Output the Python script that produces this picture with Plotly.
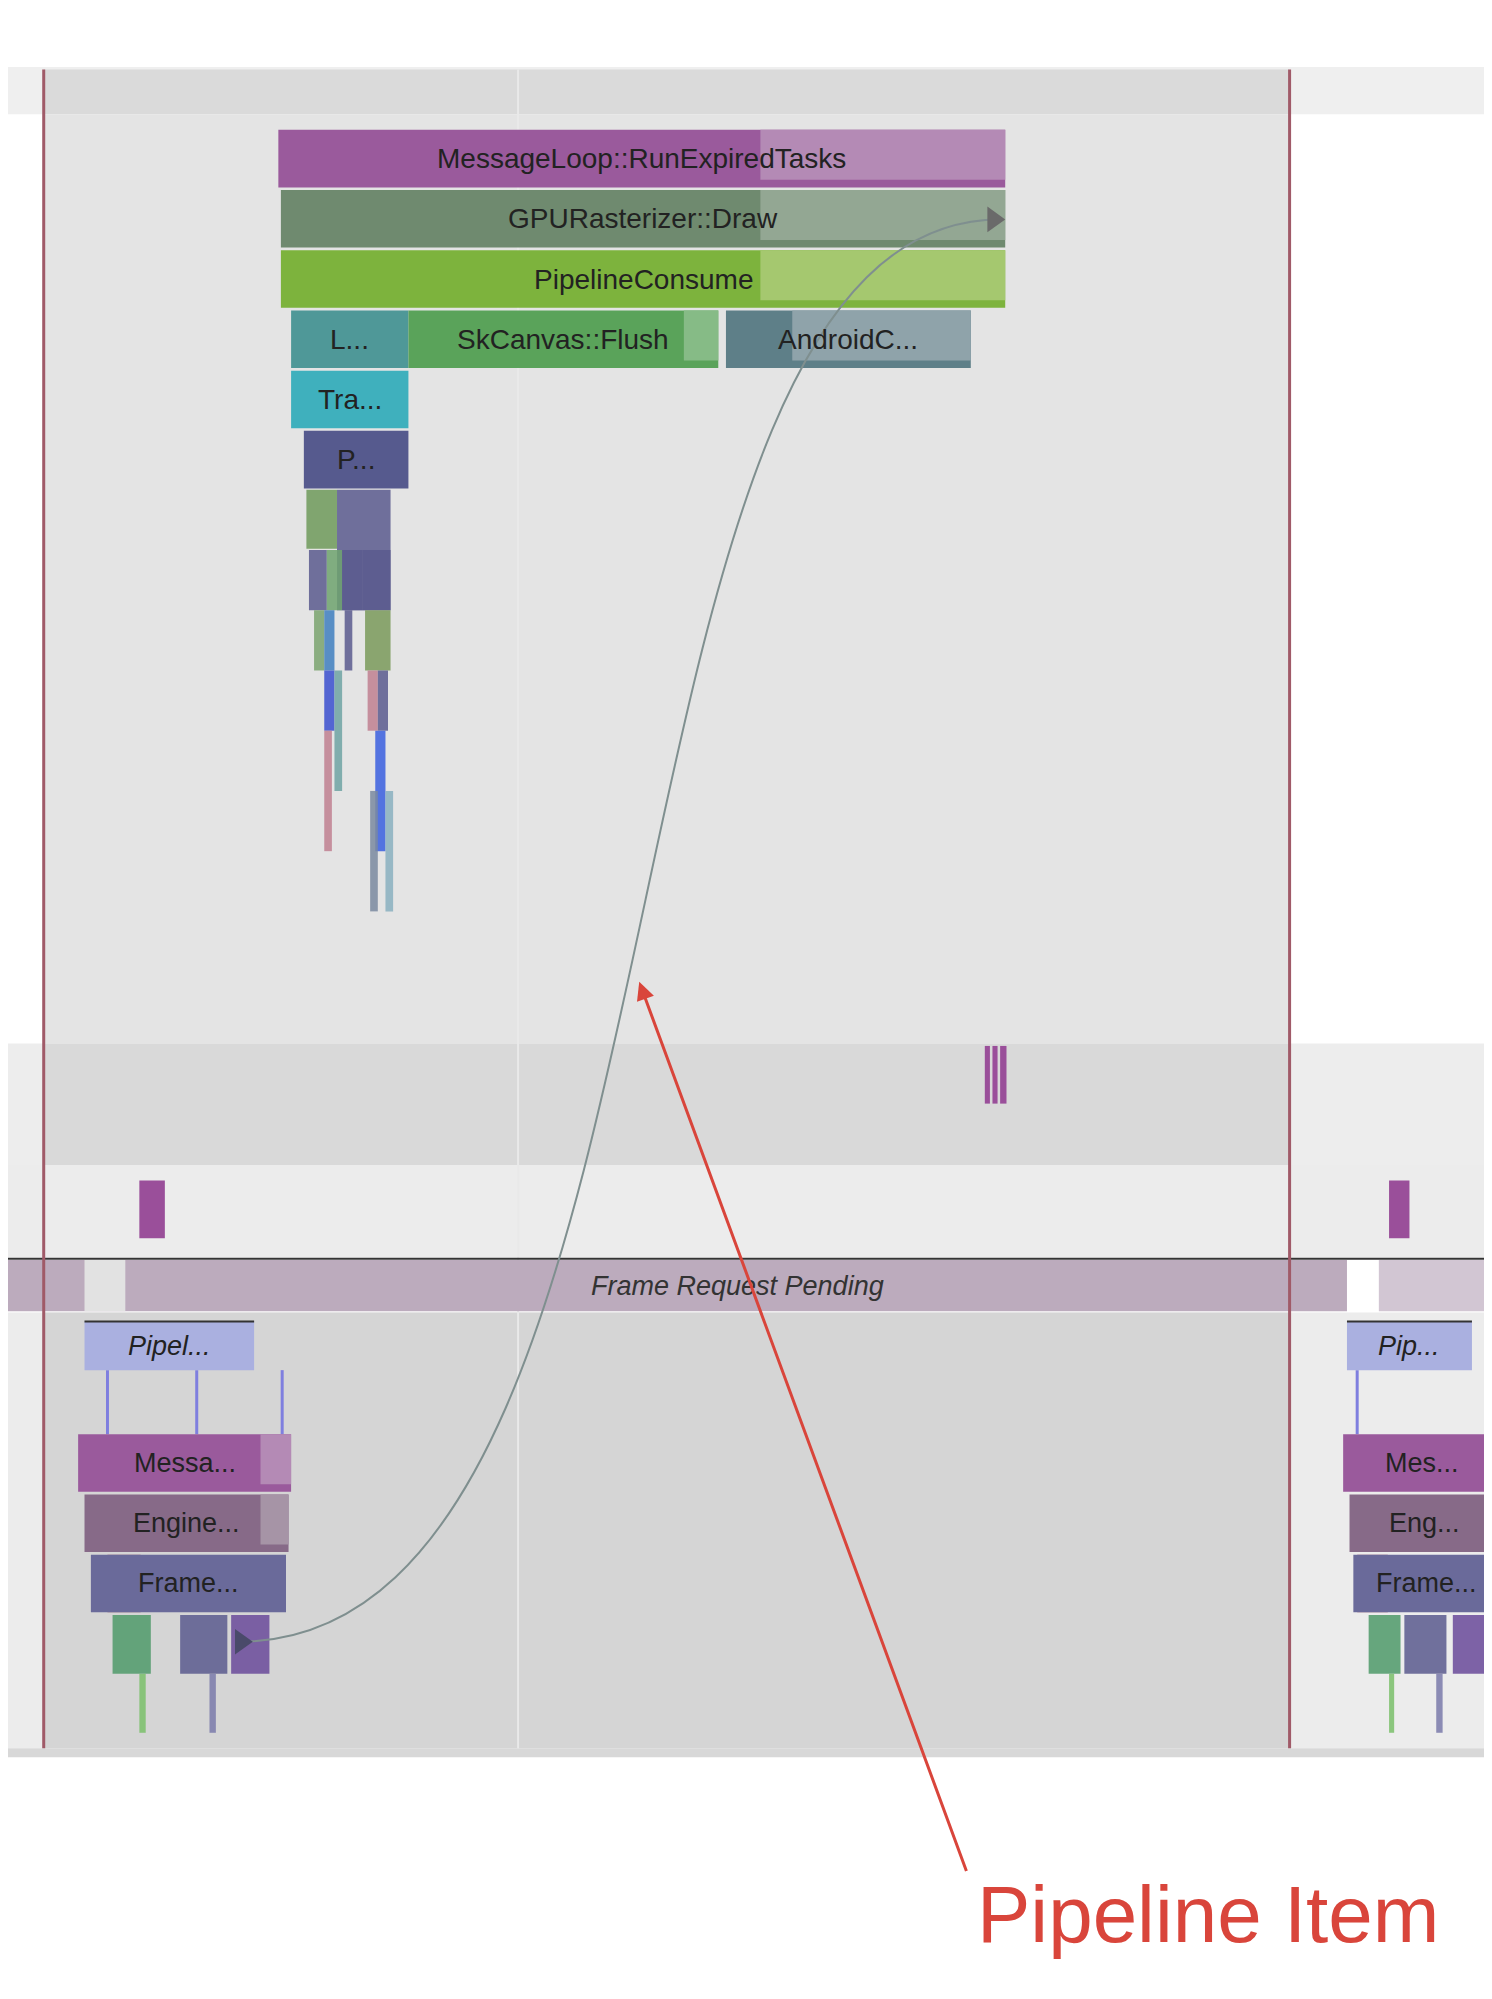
import plotly.graph_objects as go

# reference coordinate space (picture is drawn at 1170 x 1560 units)
W, H = 1170, 1560

# background bands: x0, x1, y0, y1, colour
band_x0 = [0, 0, 28, 28, 0, 28, 0, 0, 28, 0]
band_x1 = [1170, 1170, 1005, 1005, 1170, 1005, 1170, 1170, 1005, 1170]
band_y0 = [0, 46, 48, 83, 808, 808, 903, 1018, 1018, 1358]
band_y1 = [46, 83, 83, 808, 903, 903, 975, 1358, 1358, 1365]
band_col = ["#ffffff", "#efefef", "#dadada", "#e4e4e4", "#ededed", "#d9d9d9", "#ececec",
            "#ececec", "#d5d5d5", "#d8d8d8"]

# flame slices: label, x0, x1, y0, y1, colour, lighter tail start
sl_lab = ["MessageLoop::RunExpiredTasks", "GPURasterizer::Draw", "PipelineConsume", "L...",
          "SkCanvas::Flush", "AndroidC...", "Tra...", "P...",
          "Pipel...", "Messa...", "Engine...", "Frame...",
          "Pip...", "Mes...", "Eng...", "Frame..."]
sl_x0 = [212, 214, 214, 222, 314, 563, 222, 232, 60, 55, 60, 65, 1050, 1047, 1052, 1055]
sl_x1 = [782, 782, 782, 314, 557, 755, 314, 314, 193, 222, 220, 218, 1148, 1170, 1170, 1170]
sl_y0 = [95, 142, 189, 236, 236, 236, 283, 330, 1025, 1113, 1160, 1207, 1025, 1113, 1160, 1207]
sl_y1 = [140, 187, 234, 281, 281, 281, 328, 375, 1063, 1158, 1205, 1252, 1063, 1158, 1205, 1252]
sl_col = ["#9a5a9c", "#6f8a6f", "#7db33d", "#4f9898", "#5aa35a", "#5e7f88", "#3fb0bd", "#565a8e",
          "#aab0e0", "#9a5a9c", "#876a88", "#6a6a9a", "#aab0e0", "#9a5a9c", "#876a88", "#6a6a9a"]
sl_tail = [590, 590, 590, None, 530, 615, None, None, None, 198, 198, None, None, 1160, 1160, None]
sl_lite = ["#b48ab5", "#93a793", "#a5c86f", None, "#86bb86", "#8fa3aa", None, None,
           None, "#b48ab5", "#a694a6", None, None, "#b48ab5", "#a694a6", None]
sl_ital = [False] * 8 + [True, False, False, False, True, False, False, False]

# thin stacked slices below the flame: x0, x1, y0, y1, colour
th_x0 = [234, 258, 236, 250, 262, 278, 240, 248, 264, 280, 248, 256, 282, 290, 248, 288, 284, 296,
         82, 135, 175, 103, 158, 78, 1067, 1095, 1133, 1083, 1120, 1058]
th_x1 = [258, 300, 250, 262, 278, 300, 248, 256, 270, 300, 256, 262, 290, 298, 254, 296, 290, 302,
         112, 172, 205, 108, 163, 104, 1092, 1128, 1160, 1087, 1125, 1082]
th_y0 = [376, 376, 423, 423, 423, 423, 470, 470, 470, 470, 517, 517, 517, 517, 564, 564, 611, 611,
         1254, 1254, 1254, 1300, 1300, 1207, 1254, 1254, 1254, 1300, 1300, 1207]
th_y1 = [422, 470, 470, 470, 470, 470, 517, 517, 517, 517, 564, 611, 564, 564, 658, 658, 705, 705,
         1300, 1300, 1300, 1346, 1346, 1252, 1300, 1300, 1300, 1346, 1346, 1252]
th_col = ["#6f9a5a", "#5a5a8e", "#5a5a8e", "#6fa36f", "#5a5a8e", "#5a5a8e", "#7aa36f", "#3f7fbf",
          "#5a5a8e", "#7a9a5a", "#3a4fcf", "#6fa3a3", "#c08090", "#5a5a8e", "#c08090", "#3a5fdf",
          "#7a8aa0", "#8ab0c0", "#4f9a6a", "#5a5a8e", "#6a4a9a", "#7ac06a", "#7a7aaa", "#a05060",
          "#4f9a6a", "#5a5a8e", "#6a4a9a", "#7ac06a", "#7a7aaa", "#a05060"]

# small event markers: x0, x1, y0, y1
mk_x0 = [103, 1083, 766, 772, 778]
mk_x1 = [123, 1099, 770, 776, 783]
mk_y0 = [915, 915, 810, 810, 810]
mk_y1 = [960, 960, 855, 855, 855]

fig = go.Figure()
shapes = []
for x0, x1, y0, y1, c in zip(band_x0, band_x1, band_y0, band_y1, band_col):
    shapes.append(dict(type="rect", x0=x0, x1=x1, y0=y0, y1=y1, fillcolor=c, line_width=0))
shapes.append(dict(type="line", x0=400, x1=400, y0=48, y1=1358, line=dict(color="#e9e9e9", width=2)))
# frame request pending strip
shapes.append(dict(type="rect", x0=0, x1=1050, y0=977, y1=1017, fillcolor="#bcabbd", line_width=0))
shapes.append(dict(type="rect", x0=60, x1=92, y0=977, y1=1017, fillcolor="#e2e2e2", line_width=0))
shapes.append(dict(type="rect", x0=1075, x1=1170, y0=977, y1=1017, fillcolor="#d2c6d3", line_width=0))
shapes.append(dict(type="line", x0=0, x1=1170, y0=976, y1=976, line=dict(color="#333333", width=2)))
for x0, x1, y0, y1, c in zip(th_x0, th_x1, th_y0, th_y1, th_col):
    shapes.append(dict(type="rect", x0=x0, x1=x1, y0=y0, y1=y1, fillcolor=c, line_width=0, opacity=0.85))
for x in [78, 148, 215, 1058]:
    shapes.append(dict(type="line", x0=x, x1=x, y0=1063, y1=1113, line=dict(color="#7f7fdf", width=3)))
for x0, x1, y0, y1 in zip(mk_x0, mk_x1, mk_y0, mk_y1):
    shapes.append(dict(type="rect", x0=x0, x1=x1, y0=y0, y1=y1, fillcolor="#9a4f9a", line_width=0))
for i in range(len(sl_lab)):
    shapes.append(dict(type="rect", x0=sl_x0[i], x1=sl_x1[i], y0=sl_y0[i], y1=sl_y1[i],
                       fillcolor=sl_col[i], line_width=0))
    if sl_tail[i]:
        shapes.append(dict(type="rect", x0=sl_tail[i], x1=sl_x1[i], y0=sl_y0[i], y1=sl_y1[i] - 6,
                           fillcolor=sl_lite[i], line_width=0))
    if sl_ital[i]:
        shapes.append(dict(type="line", x0=sl_x0[i], x1=sl_x1[i], y0=sl_y0[i], y1=sl_y0[i],
                           line=dict(color="#333333", width=2)))
# frame boundaries
for x in [28, 1005]:
    shapes.append(dict(type="line", x0=x, x1=x, y0=48, y1=1358, line=dict(color="#a05a68", width=3)))
# flow curve
shapes.append(dict(type="path", path="M 180 1275 C 560 1275, 440 165, 778 165",
                   line=dict(color="#7f8f8f", width=2)))
shapes.append(dict(type="path", path="M 768 155 L 782 165 L 768 175 Z", fillcolor="#6a6a6a", line_width=0))
shapes.append(dict(type="path", path="M 178 1265 L 192 1275 L 178 1285 Z", fillcolor="#4a4a6a", line_width=0))
fig.update_layout(shapes=shapes)

for i in range(len(sl_lab)):
    txt = "<i>" + sl_lab[i] + "</i>" if sl_ital[i] else sl_lab[i]
    fig.add_annotation(x=(sl_x0[i] + sl_x1[i]) / 2, y=(sl_y0[i] + sl_y1[i]) / 2, text=txt,
                       showarrow=False, font=dict(size=28 if i < 8 else 27, color="#222222",
                       family="Liberation Sans"), xanchor="center", yanchor="middle")
fig.add_annotation(x=572, y=997, text="<i>Frame Request Pending</i>", showarrow=False,
                   font=dict(size=27, color="#333333", family="Liberation Sans"))
# callout
fig.add_annotation(x=495, y=760, ax=752, ay=1455, axref="x", ayref="y", text="", showarrow=True,
                   arrowhead=2, arrowsize=1.2, arrowwidth=3, arrowcolor="#d9453b")
fig.add_annotation(x=758, y=1488, text="Pipeline Item", showarrow=False, xanchor="left",
                   font=dict(size=80, color="#d9453b", family="Liberation Sans"))

fig.update_xaxes(range=[0, W], visible=False, fixedrange=True)
fig.update_yaxes(range=[H, 0], visible=False, fixedrange=True)
fig.update_layout(width=1492, height=1999, margin=dict(l=0, r=0, t=0, b=0),
                  plot_bgcolor="white", paper_bgcolor="white", showlegend=False)
fig.write_html("out.html")
